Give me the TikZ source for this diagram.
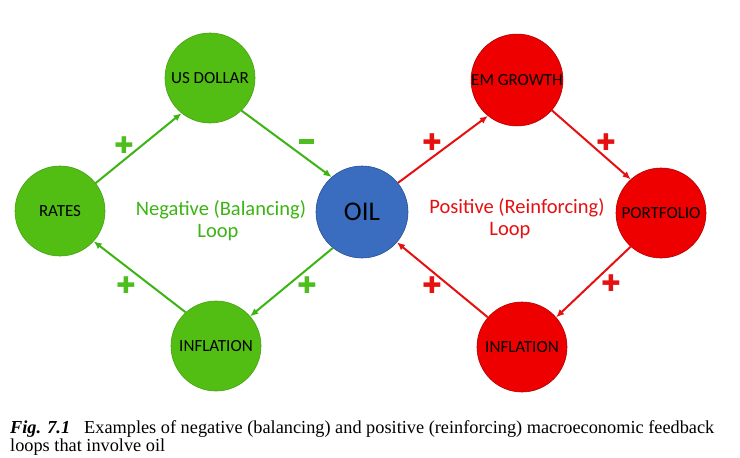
\documentclass[tikz,border=0pt]{standalone}
\usepackage{fontspec}
\setmainfont{Liberation Serif}
\newfontfamily\calfont{Carlito}
\newfontfamily\signfont{DejaVu Sans}
\usetikzlibrary{arrows.meta}
\definecolor{gfill}{HTML}{52BE14}
\definecolor{gedge}{HTML}{44A012}
\definecolor{garrow}{HTML}{3CB414}
\definecolor{gsigncol}{HTML}{4EBE1E}
\definecolor{rfill}{HTML}{EE0000}
\definecolor{redge}{HTML}{B00000}
\definecolor{rarrow}{HTML}{E61010}
\definecolor{bfill}{HTML}{3A6DC0}
\definecolor{bedge}{HTML}{2A5090}
\tikzset{
  gnode/.style={circle,fill=gfill,draw=gedge,line width=0.6pt,minimum size=90pt,inner sep=0pt,font=\calfont\fontsize{17}{19}\selectfont},
  rnode/.style={circle,fill=rfill,draw=redge,line width=0.6pt,minimum size=90pt,inner sep=0pt,font=\calfont\fontsize{17}{19}\selectfont},
  onode/.style={circle,fill=bfill,draw=bedge,line width=0.6pt,minimum size=92pt,inner sep=0pt,font=\calfont\fontsize{27}{30}\selectfont},
  garr/.style={draw=garrow,line width=2pt,-{Latex[length=8pt,width=7pt]}},
  rarr/.style={draw=rarrow,line width=2pt,-{Latex[length=8pt,width=7pt]}},
  gsign/.style={text=gsigncol,font=\signfont\fontsize{23}{23}\selectfont,inner sep=0pt},
  rsign/.style={text=rarrow,font=\signfont\fontsize{23}{23}\selectfont,inner sep=0pt},
  looptext/.style={font=\calfont\fontsize{20.5}{23}\selectfont,inner sep=0pt},
  captext/.style={anchor=base west,inner sep=0pt,font=\fontsize{18.3}{21}\selectfont},
}
\begin{document}
\begin{tikzpicture}[x=1pt,y=-1pt]
\useasboundingbox[fill=white] (0,0) rectangle (740,458);
\node[gnode] (usd) at (210,78) {US DOLLAR};
\node[gnode] (rates) at (60,211) {RATES};
\node[gnode] (ginf) at (216,346) {INFLATION};
\node[onode] (oil) at (362,212) {OIL};
\node[rnode] (em) at (517,80) {EM GROWTH};
\node[rnode] (port) at (661,213) {PORTFOLIO};
\node[rnode] (rinf) at (522,347) {INFLATION};
\draw[garr] (rates.38) -- (usd.231);
\draw[garr] (usd.314) -- (oil.131);
\draw[garr] (oil.231) -- (ginf.41);
\draw[garr] (ginf.132) -- (rates.318);
\draw[rarr] (oil.39) -- (em.231);
\draw[rarr] (em.319) -- (port.132);
\draw[rarr] (port.228) -- (rinf.41);
\draw[rarr] (rinf.139) -- (oil.319);
\node[gsign] (s1) at (124,145) {✚};
\node[gsign,fill=gsigncol,minimum width=15pt,minimum height=5pt] (s2) at (306.5,141.5) {};
\node[gsign] (s3) at (126,285) {✚};
\node[gsign] (s4) at (307,285) {✚};
\node[rsign] (s5) at (432,142) {✚};
\node[rsign] (s6) at (606,142) {✚};
\node[rsign] (s7) at (432,285) {✚};
\node[rsign] (s8) at (611,283) {✚};
\node[looptext,text=garrow] (neg1) at (221,210) {Negative (Balancing)};
\node[looptext,text=garrow] (neg2) at (218,233) {Loop};
\node[looptext,text=rarrow] (pos1) at (517,208) {Positive (Reinforcing)};
\node[looptext,text=rarrow] (pos2) at (510,231) {Loop};
\node[captext] (cap1) at (10,433) {\textbf{\textit{Fig. 7.1}}\hspace{14pt}Examples of negative (balancing) and positive (reinforcing) macroeconomic feedback};
\node[captext] (cap2) at (10,451) {loops that involve oil};
\end{tikzpicture}
\end{document}
